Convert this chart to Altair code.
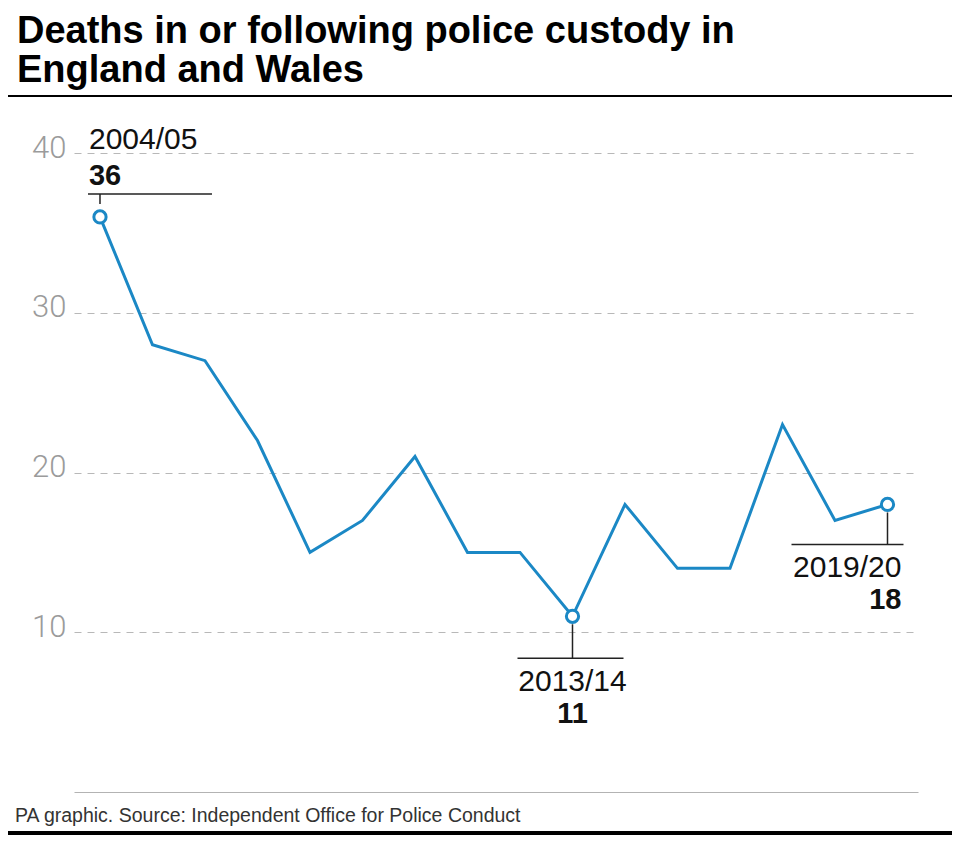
import altair as alt
import pandas as pd

# ---- data ----
years = ["2004/05", "2005/06", "2006/07", "2007/08", "2008/09", "2009/10",
         "2010/11", "2011/12", "2012/13", "2013/14", "2014/15", "2015/16",
         "2016/17", "2017/18", "2018/19", "2019/20"]
deaths = [36, 28, 27, 22, 15, 17, 21, 15, 15, 11, 18, 14, 14, 23, 17, 18]
y_ticks = [10, 20, 30, 40]
highlight_years = ["2004/05", "2013/14", "2019/20"]

title_lines = ["Deaths in or following police custody in", "England and Wales"]
source_text = "PA graphic. Source: Independent Office for Police Conduct"

BLUE = "#1b88c5"
TEXT_FONT = "Liberation Sans"
TITLE_FONT = "Liberation Sans"

df = pd.DataFrame({"idx": list(range(len(years))), "year": years, "deaths": deaths})
hl = df[df["year"].isin(highlight_years)]

x_enc = alt.X("idx:Q",
              scale=alt.Scale(domain=[-0.495, 15.581], nice=False, zero=False),
              axis=alt.Axis(title=None, labels=False, ticks=False, grid=False,
                            domainColor="#b3b3b3", domainWidth=1.2))
y_enc = alt.Y("deaths:Q",
              scale=alt.Scale(domain=[0, 40], nice=False),
              axis=alt.Axis(title=None, values=y_ticks, grid=True, gridDash=[7, 6],
                            gridColor="#b8b8b8", gridWidth=1, domain=False, ticks=False,
                            labelFont="Roboto", labelFontWeight=300, labelFontSize=31,
                            labelColor="#9b9b9b", labelPadding=8,
                            labelBaseline="alphabetic", labelOffset=4))

base = alt.Chart(df)
line = base.mark_line(color=BLUE, strokeWidth=3).encode(x=x_enc, y=y_enc)

points = alt.Chart(hl).mark_point(shape="circle", filled=True, fill="white", stroke=BLUE,
                                  strokeWidth=3, size=150, opacity=1).encode(
    x="idx:Q", y="deaths:Q")


def annotation(year, v_off, h_off, hx, align, dx, dy_year, dy_val):
    d = alt.Chart(df[df["year"] == year])
    vrule = d.mark_rule(color="#222", strokeWidth=1.5, yOffset=v_off[0], y2Offset=v_off[1]).encode(
        x="idx:Q", y="deaths:Q", y2=alt.Y2("deaths"))
    hrule = d.mark_rule(color="#222", strokeWidth=1.5, xOffset=hx[0], x2Offset=hx[1],
                        yOffset=h_off).encode(
        x="idx:Q", x2=alt.X2("idx"), y="deaths:Q")
    t_year = d.mark_text(align=align, baseline="alphabetic", dx=dx, dy=dy_year,
                         font=TEXT_FONT, fontSize=30, color="#111").encode(
        x="idx:Q", y="deaths:Q", text="year:N")
    t_val = d.mark_text(align=align, baseline="alphabetic", dx=dx, dy=dy_val,
                        font=TEXT_FONT, fontSize=29, fontWeight="bold", color="#111").encode(
        x="idx:Q", y="deaths:Q", text="deaths:Q")
    return [vrule, hrule, t_year, t_val]


ann1 = annotation("2004/05", (-13, -23), -23, (-12, 112), "left", -11, -68, -32)
ann2 = annotation("2013/14", (8, 42), 42, (-55, 51), "center", 0, 75, 107)
ann3 = annotation("2019/20", (8, 40), 40, (-96, 16), "right", 14, 73, 105)

one = pd.DataFrame({"a": [0]})
title1 = alt.Chart(one).mark_text(align="left", baseline="alphabetic", font=TITLE_FONT,
                                  fontSize=38, fontWeight="bold", color="#000").encode(
    x=alt.value(-57), y=alt.value(-110), text=alt.value(title_lines[0]))
title2 = alt.Chart(one).mark_text(align="left", baseline="alphabetic", font=TITLE_FONT,
                                  fontSize=38, fontWeight="bold", color="#000").encode(
    x=alt.value(-57), y=alt.value(-71), text=alt.value(title_lines[1]))
top_rule = alt.Chart(one).mark_rule(color="#000", strokeWidth=2).encode(
    x=alt.value(-66), x2=alt.value(878), y=alt.value(-57))
source = alt.Chart(one).mark_text(align="left", baseline="alphabetic", font=TEXT_FONT,
                                  fontSize=19.5, color="#333").encode(
    x=alt.value(-59), y=alt.value(669), text=alt.value(source_text))
bottom_rule = alt.Chart(one).mark_rule(color="#000", strokeWidth=4).encode(
    x=alt.value(-66), x2=alt.value(878), y=alt.value(680))

chart = alt.layer(line, *ann1, *ann2, *ann3, points,
                  title1, title2, top_rule, source, bottom_rule).properties(
    width=844, height=639,
    padding={"left": 66, "top": 145, "right": 34, "bottom": 43},
    autosize=alt.AutoSizeParams(type="none"),
    background="white",
).configure_view(stroke="transparent")

chart.save("out.html", embed_options={"renderer": "svg", "actions": False})
